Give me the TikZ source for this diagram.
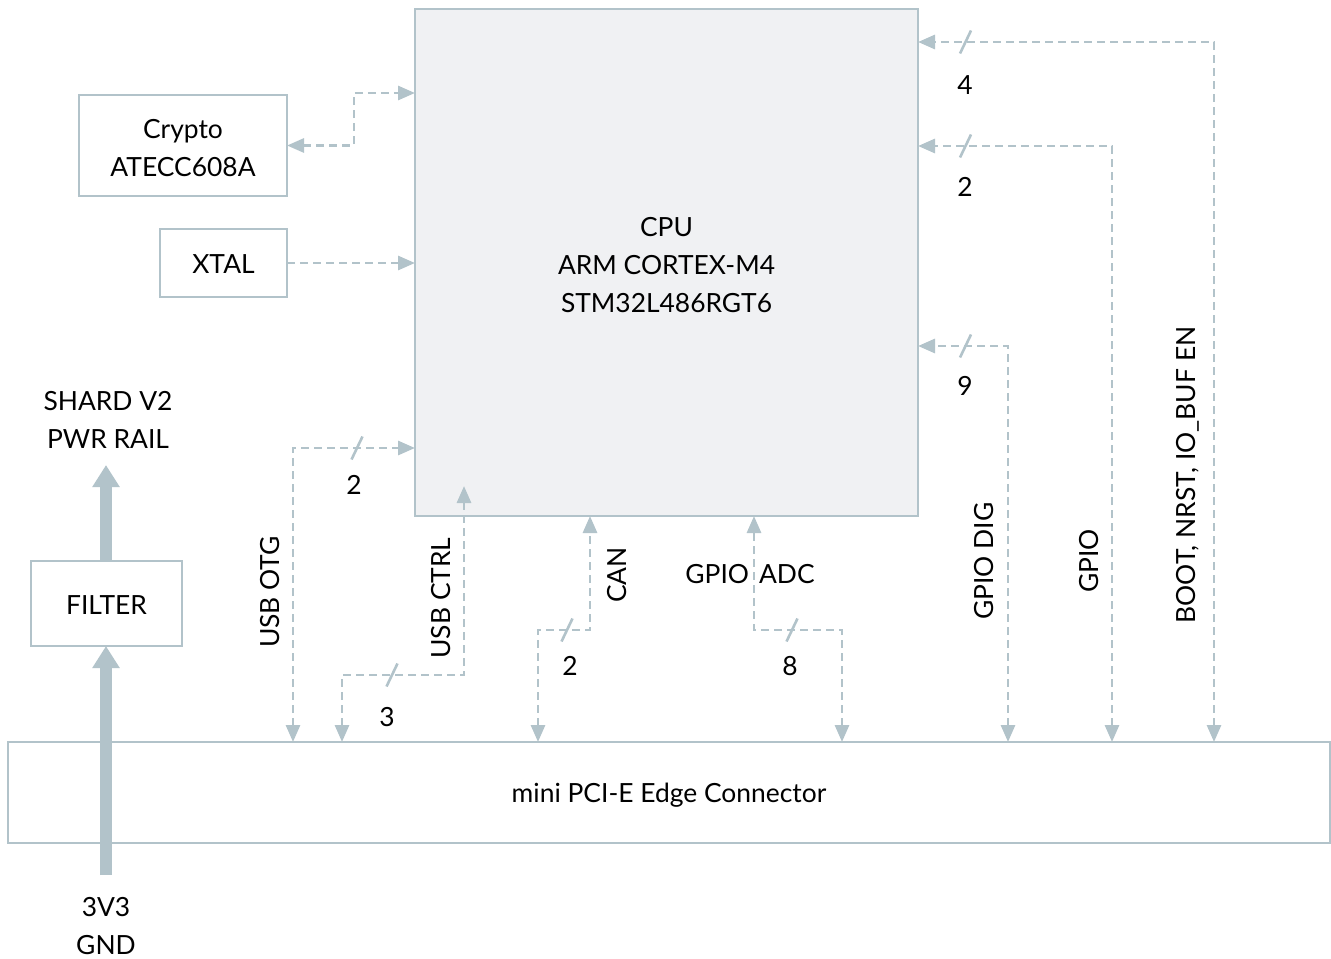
\documentclass[tikz,border=0pt]{standalone}
\usepackage{fontspec}
\setmainfont{Lato}
\usetikzlibrary{arrows.meta}
\definecolor{ln}{HTML}{B2C3CA}
\definecolor{cpufill}{HTML}{F0F1F3}
\tikzset{
  box/.style={draw=ln, line width=1.3pt, inner sep=0pt, outer sep=0pt, align=center},
  sig/.style={draw=ln, line width=1.45pt, dash pattern=on 4pt off 2.5pt},
  tip/.style={-{Triangle[length=8.5pt,width=7pt]}},
  both/.style={{Triangle[length=8.5pt,width=7pt]}-{Triangle[length=8.5pt,width=7pt]}},
  power/.style={draw=ln, line width=6pt, -{Triangle[length=11pt,width=13pt]}},
  slash/.style={draw=ln, line width=1.3pt},
  lbl/.style={inner sep=0pt, align=center},
  vlbl/.style={inner sep=0pt, rotate=90}
}
\begin{document}
\begin{tikzpicture}[x=0.5pt,y=-0.5pt,font=\fontsize{13.2}{19}\selectfont]
\useasboundingbox (0,0) rectangle (1331,958);
% boxes
\node[box, fill=cpufill, minimum width=251.5pt, minimum height=253.5pt] (cpu) at (666.5,262.5) {};
\node[lbl] (cputxt) at (666.5,265) {CPU\\ARM CORTEX-M4\\STM32L486RGT6};
\node[box, minimum width=104pt, minimum height=50.5pt, text height=31.5pt] (crypto) at (183,145.5) {Crypto\\ATECC608A};
\node[box, minimum width=63.5pt, minimum height=34pt, text height=10.5pt] (xtal) at (223.5,263) {XTAL};
\node[box, minimum width=75.5pt, minimum height=42.5pt, text height=10.5pt] (filter) at (106.5,603.5) {FILTER};
\node[box, minimum width=661pt, minimum height=50.5pt, text depth=0pt] (edge) at (669,792.5) {mini PCI-E Edge Connector};
% power
\node[lbl] (shard) at (108,420) {SHARD V2\\PWR RAIL};
\node[lbl] (gnd) at (106,926) {3V3\\GND};
\coordinate (pwrin) at (106,875);
\coordinate (pwrtip) at (106,465);
\draw[power] (pwrin) -- (pwrin |- filter.south);
\draw[power] (pwrin |- filter.north) -- (pwrtip);
% left signals
\draw[sig,both] (crypto.east) -- (354,145.5) -- (354,93) -- (cpu.west |- 0,93);
\draw[sig,tip] (xtal.east) -- (cpu.west |- xtal.east);
\draw[sig,both] (293,0 |- edge.north) -- (293,448) -- (cpu.west |- 0,448);
\draw[slash] (351.5,459.5) -- (362.5,436.5);
\node[lbl] (n2a) at (354,485) {2};
\node[vlbl] (usbotg) at (270,592) {USB OTG};
\draw[sig,both] (342,0 |- edge.north) -- (342,675) -- (464,675) -- (464,486);
\draw[slash] (386.5,686.5) -- (397.5,663.5);
\node[lbl] (n3) at (387,717) {3};
\node[vlbl] (usbctrl) at (441,598) {USB CTRL};
% bottom signals
\draw[sig,both] (538,0 |- edge.north) -- (538,630) -- (590,630) -- (590,0 |- cpu.south);
\draw[slash] (561.5,641.5) -- (572.5,618.5);
\node[lbl] (n2b) at (570,666) {2};
\node[vlbl] (can) at (617,575) {CAN};
\draw[sig,both] (842,0 |- edge.north) -- (842,630) -- (754,630) -- (754,0 |- cpu.south);
\draw[slash] (786.5,641.5) -- (797.5,618.5);
\node[lbl] (n8) at (790,666) {8};
\node[lbl] (gpioadc) at (750,574) {GPIO\hspace{5pt}ADC};
% right signals
\draw[sig,both] (1008,0 |- edge.north) -- (1008,346) -- (cpu.east |- 0,346);
\draw[slash] (960,357.5) -- (971,334.5);
\node[lbl] (n9) at (965,386) {9};
\node[vlbl] (gpiodig) at (984,561) {GPIO DIG};
\draw[sig,both] (1112,0 |- edge.north) -- (1112,146) -- (cpu.east |- 0,146);
\draw[slash] (960,157.5) -- (971,134.5);
\node[lbl] (n2c) at (965,187) {2};
\node[vlbl] (gpio) at (1089,561) {GPIO};
\draw[sig,both] (1214,0 |- edge.north) -- (1214,42) -- (cpu.east |- 0,42);
\draw[slash] (960,53.5) -- (971,30.5);
\node[lbl] (n4) at (965,85) {4};
\node[vlbl] (boot) at (1188,475) {BOOT, NRST, IO\_BUF EN};
\end{tikzpicture}
\end{document}
